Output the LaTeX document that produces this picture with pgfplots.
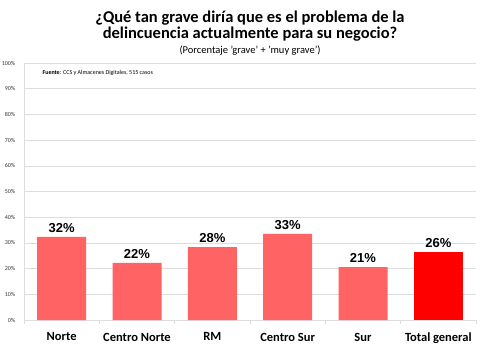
\documentclass[border=0pt]{standalone}
\usepackage{pgfplots}
\pgfplotsset{compat=1.18}
\usepackage{fontspec}
\setmainfont{Carlito}
\newfontfamily\arialfont{Liberation Sans}
\definecolor{barred}{HTML}{FF6363}
\definecolor{totred}{HTML}{FF0000}
\definecolor{gridgray}{HTML}{DDDDDD}
\begin{document}
\begin{tikzpicture}[x=1pt,y=1pt]
\useasboundingbox (0,0) rectangle (484,354);
\begin{axis}[
  at={(24pt,34pt)}, anchor=south west,
  scale only axis, width=452pt, height=257pt,
  xmin=-0.5, xmax=5.5, ymin=0, ymax=100,
  axis line style={draw=gridgray, line width=0.8pt},
  axis x line*=bottom, axis y line*=left,
  ytick={0,10,...,100},
  yticklabel={\pgfmathprintnumber{\tick}\%},
  yticklabel style={font=\fontsize{6}{7}\selectfont\color{black!80}, xshift=-1pt},
  /pgf/number format/assume math mode=true,
  ymajorgrids, grid style={gridgray, line width=0.6pt},
  major y tick style={draw=none},
  xtick={0,1,2,3,4,5},
  xticklabels={Norte,Centro Norte,RM,Centro Sur,Sur,Total general},
  xticklabel style={font=\bfseries\fontsize{12.5}{13}\selectfont, yshift=-5pt},
  major x tick style={draw=none},
  minor xtick={-0.5,0.5,1.5,2.5,3.5,4.5,5.5},
  minor x tick style={draw=gridgray, line width=0.8pt},
  minor tick length=4pt, tick align=outside,
  ybar, bar width=49pt, bar shift=0pt,
  nodes near coords={\pgfmathprintnumber{\pgfplotspointmeta}\%},
  nodes near coords style={font=\arialfont\bfseries\fontsize{13}{14}\selectfont, black, yshift=1pt},
  point meta=explicit symbolic,
  clip=false,
]
\addplot[fill=barred, draw=none] coordinates {(0,32.3)[32] (1,22.2)[22] (2,28.4)[28] (3,33.5)[33] (4,20.6)[21]};
\addplot[fill=totred, draw=none] coordinates {(5,26.5)[26]};
\end{axis}
\node[font=\bfseries\fontsize{16.5}{16.5}\selectfont, align=center, anchor=north] at (250,347) {¿Qué tan grave diría que es el problema de la\\delincuencia actualmente para su negocio?};
\node[font=\fontsize{10.5}{12}\selectfont, anchor=north] at (250,312) {(Porcentaje 'grave' + 'muy grave')};
\node[font=\fontsize{6}{7}\selectfont, anchor=west] at (39,281) {\textbf{Fuente}: CCS y Almacenes Digitales, 515 casos};
\end{tikzpicture}
\end{document}
